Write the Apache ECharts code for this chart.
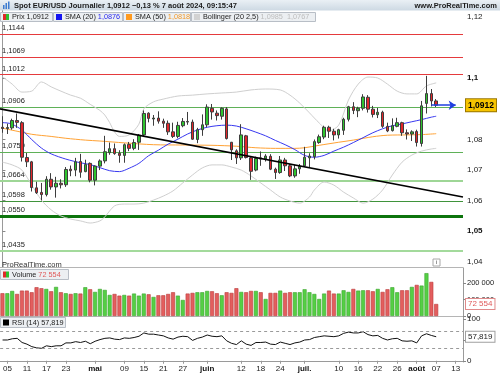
<!DOCTYPE html>
<html><head><meta charset="utf-8">
<script src="https://cdn.jsdelivr.net/npm/echarts@6.0.0/dist/echarts.min.js"></script>
<style>html,body{margin:0;padding:0;background:#fff;}#chart{width:500px;height:375px;}</style>
</head><body><div id="chart"></div>
<script>
// ---------- DATA ----------
const dates = [
 '04-04','04-05',
 '04-08','04-09','04-10','04-11','04-12',
 '04-15','04-16','04-17','04-18','04-19',
 '04-22','04-23','04-24','04-25','04-26',
 '04-29','04-30','05-01','05-02','05-03',
 '05-06','05-07','05-08','05-09','05-10',
 '05-13','05-14','05-15','05-16','05-17',
 '05-20','05-21','05-22','05-23','05-24',
 '05-27','05-28','05-29','05-30','05-31',
 '06-03','06-04','06-05','06-06','06-07',
 '06-10','06-11','06-12','06-13','06-14',
 '06-17','06-18','06-19','06-20','06-21',
 '06-24','06-25','06-26','06-27','06-28',
 '07-01','07-02','07-03','07-04','07-05',
 '07-08','07-09','07-10','07-11','07-12',
 '07-15','07-16','07-17','07-18','07-19',
 '07-22','07-23','07-24','07-25','07-26',
 '07-29','07-30','07-31','08-01','08-02',
 '08-05','08-06','08-07','08-08','08-09',
 '08-12','08-13','08-14'
];
const tickDates = ['04-05','04-11','04-17','04-23','05-01','05-09','05-15','05-21','05-27','06-03','06-12','06-18','06-24','07-01','07-10','07-16','07-22','07-26','08-01','08-07','08-13'];
const tickTexts = ['05','11','17','23','mai','09','15','21','27','juin','12','18','24','juil.','10','16','22','26','août','07','13'];
const monthTexts = ['mai','juin','juil.','août'];

// [open, high, low, close]
const ohlc = [
 [1.0840,1.0876,1.0822,1.0836],[1.0836,1.0852,1.0818,1.0839],[1.0838,1.0868,1.0832,1.0862],[1.0862,1.0885,1.0838,1.0856],
 [1.0855,1.0860,1.0728,1.0742],[1.0741,1.0756,1.0710,1.0727],[1.0727,1.0730,1.0630,1.0643],[1.0642,1.0662,1.0622,1.0626],
 [1.0627,1.0658,1.0601,1.0620],[1.0620,1.0680,1.0614,1.0670],[1.0670,1.0690,1.0636,1.0645],[1.0645,1.0678,1.0610,1.0657],
 [1.0657,1.0670,1.0640,1.0652],[1.0652,1.0710,1.0645,1.0702],[1.0703,1.0715,1.0680,1.0698],[1.0700,1.0740,1.0680,1.0727],
 [1.0728,1.0753,1.0675,1.0693],[1.0695,1.0734,1.0693,1.0718],[1.0722,1.0725,1.0660,1.0667],[1.0667,1.0715,1.0650,1.0713],
 [1.0713,1.0735,1.0700,1.0730],[1.0730,1.0812,1.0722,1.0760],[1.0757,1.0790,1.0750,1.0770],[1.0770,1.0787,1.0750,1.0754],
 [1.0755,1.0765,1.0724,1.0748],[1.0748,1.0787,1.0724,1.0783],[1.0784,1.0792,1.0762,1.0771],[1.0771,1.0801,1.0765,1.0790],
 [1.0791,1.0818,1.0766,1.0814],[1.0815,1.0895,1.0808,1.0885],[1.0886,1.0889,1.0856,1.0869],[1.0867,1.0880,1.0845,1.0870],
 [1.0870,1.0892,1.0852,1.0860],[1.0860,1.0868,1.0838,1.0853],[1.0853,1.0862,1.0815,1.0825],[1.0825,1.0855,1.0805,1.0810],
 [1.0810,1.0858,1.0804,1.0846],[1.0845,1.0870,1.0840,1.0859],[1.0859,1.0890,1.0848,1.0857],[1.0857,1.0865,1.0799,1.0801],
 [1.0800,1.0838,1.0788,1.0832],[1.0832,1.0882,1.0812,1.0848],[1.0848,1.0915,1.0840,1.0906],[1.0902,1.0916,1.0865,1.0890],
 [1.0886,1.0895,1.0862,1.0878],[1.0876,1.0905,1.0865,1.0902],[1.0900,1.0906,1.0800,1.0803],[1.0791,1.0792,1.0733,1.0766],
 [1.0763,1.0768,1.0720,1.0740],[1.0740,1.0850,1.0733,1.0815],[1.0812,1.0815,1.0738,1.0741],[1.0740,1.0745,1.0668,1.0696],
 [1.0700,1.0744,1.0696,1.0738],[1.0740,1.0761,1.0714,1.0736],[1.0737,1.0752,1.0728,1.0746],[1.0745,1.0752,1.0700,1.0703],
 [1.0703,1.0708,1.0671,1.0692],[1.0692,1.0746,1.0688,1.0733],[1.0733,1.0740,1.0697,1.0714],[1.0714,1.0720,1.0677,1.0681],
 [1.0681,1.0717,1.0675,1.0704],[1.0704,1.0720,1.0688,1.0712],[1.0714,1.0776,1.0710,1.0742],[1.0740,1.0755,1.0710,1.0746],
 [1.0744,1.0800,1.0735,1.0793],[1.0790,1.0816,1.0786,1.0809],[1.0808,1.0845,1.0801,1.0840],[1.0840,1.0845,1.0805,1.0827],
 [1.0827,1.0835,1.0797,1.0815],[1.0815,1.0835,1.0803,1.0832],[1.0830,1.0871,1.0815,1.0866],[1.0866,1.0910,1.0859,1.0907],
 [1.0907,1.0922,1.0883,1.0895],[1.0894,1.0907,1.0873,1.0902],[1.0902,1.0948,1.0895,1.0939],[1.0938,1.0945,1.0888,1.0899],
 [1.0899,1.0910,1.0872,1.0882],[1.0881,1.0903,1.0870,1.0889],[1.0889,1.0894,1.0838,1.0843],[1.0843,1.0855,1.0824,1.0828],
 [1.0829,1.0869,1.0826,1.0845],[1.0843,1.0871,1.0840,1.0855],[1.0855,1.0858,1.0812,1.0822],[1.0822,1.0833,1.0800,1.0818],
 [1.0818,1.0830,1.0795,1.0825],[1.0826,1.0832,1.0777,1.0790],[1.0787,1.0926,1.0777,1.0910],[1.0918,1.1008,1.0885,1.0950],
 [1.0950,1.0965,1.0908,1.0926],[1.0926,1.0932,1.0906,1.0912]
];
const volume = [
 137600,137600,151500,133300,153500,153500,143600,173900,167900,163600,
 149500,175800,143600,137600,133300,137600,135600,173900,161600,145500,
 163600,157600,127300,133300,123100,127300,123100,135600,123100,135600,
 131300,115200,125300,125300,133300,143600,123100,97000,135600,139600,
 143600,143600,151500,149500,137600,125300,143600,139600,167900,145500,
 143600,151500,151500,143600,103000,139600,139600,153500,139600,143600,
 143600,143600,161600,143600,133300,103000,135600,153500,135600,135600,
 155500,145500,163600,153500,155500,155500,149500,163600,145500,161600,
 173900,143600,155500,155500,175800,187900,183800,258800,206100,72554
];
const rsi = [
 50,50,53,54,44,40,34,31,30,36, 34,36,36,43,43,46,44,47,41,47,
 51,54,55,52,51,55,54,56,59,67, 64,64,62,60,55,52,57,59,58,49,
 54,57,62,59,58,60,48,42,39,48, 40,37,44,44,45,40,39,45,42,39,
 43,45,50,51,56,58,60,59,58,60, 66,69,67,67,70,63,60,61,54,50,
 53,54,48,47,48,43,60,65,61,57.819
];
// [category index, value]
const sma20 = [[0,1.0855],[1,1.0854],[2,1.0850],[4,1.0831],[6,1.0800],[8,1.0772],[10,1.0753],[13,1.0736],[16,1.0724],[18,1.0718],[20,1.0708],[22,1.0698],[24,1.0695],[26,1.0706],[28,1.0722],[30,1.0747],[32,1.0765],[34,1.0785],[36,1.0801],[38,1.0818],[40,1.0831],[42,1.0840],[44,1.0845],[46,1.0847],[48,1.0844],[50,1.0835],[52,1.0824],[54,1.0812],[56,1.0797],[58,1.0783],[60,1.0767],[62,1.0748],[64,1.0742],[66,1.0748],[68,1.0762],[70,1.0775],[72,1.0790],[74,1.0806],[76,1.0822],[78,1.0835],[80,1.0845],[82,1.0851],[84,1.0858],[86,1.0865],[88,1.0873],[89,1.0876]];
const sma50 = [[0,1.0837],[3,1.0827],[6,1.0817],[10,1.0810],[13,1.0804],[17,1.0798],[20,1.0795],[25,1.0789],[31,1.0783],[37,1.0782],[43,1.0781],[48,1.0778],[52,1.0773],[56,1.0771],[60,1.0771],[62,1.0773],[65,1.0781],[69,1.0791],[72,1.0798],[76,1.0809],[79,1.0814],[83,1.0815],[86,1.0816],[89,1.0819]];
const bbUpper = [[0,1.1005],[2,1.0981],[4,1.0955],[6,1.0958],[8,1.0988],[10,1.0972],[12,1.0958],[14,1.0945],[16,1.0935],[18,1.0915],[20,1.0895],[21,1.0880],[22,1.0855],[23,1.0825],[24,1.0810],[26,1.0815],[28,1.0850],[29,1.0900],[31,1.0923],[33,1.0932],[36,1.0942],[39,1.0945],[42,1.0949],[45,1.0952],[48,1.0955],[51,1.0962],[54,1.0965],[57,1.0962],[59,1.0945],[61,1.0919],[63,1.0887],[65,1.0854],[67,1.0828],[69,1.0847],[71,1.0929],[73,1.0981],[75,1.1004],[77,1.1001],[79,1.0981],[81,1.0958],[83,1.0949],[85,1.0949],[87,1.0975],[89,1.0985]];
const bbLower = [[0,1.0726],[2,1.0717],[4,1.0700],[6,1.0651],[8,1.0602],[10,1.0570],[12,1.0550],[14,1.0540],[16,1.0534],[18,1.0527],[20,1.0534],[21,1.0547],[23,1.0583],[25,1.0589],[27,1.0589],[29,1.0592],[31,1.0602],[33,1.0615],[35,1.0632],[37,1.0658],[39,1.0684],[41,1.0707],[43,1.0717],[45,1.0717],[47,1.0710],[49,1.0700],[51,1.0681],[53,1.0658],[55,1.0635],[57,1.0612],[59,1.0599],[61,1.0592],[63,1.0612],[64,1.0635],[66,1.0661],[68,1.0651],[70,1.0628],[72,1.0609],[74,1.0592],[76,1.0605],[78,1.0635],[80,1.0684],[82,1.0726],[84,1.0749],[86,1.0762],[88,1.0769],[89,1.0771]];
const trendline = [[-0.5,1.0900],[94.5,1.0612]];
const resistances = [1.1144,1.1069,1.1012];
const supports = [1.0906,1.0759,1.0664,1.0598,1.0550,1.0435];
const priceTicks = [1.04,1.05,1.06,1.07,1.08,1.09,1.1,1.12];
const volumeTicks = [0,100000,200000];
const rsiTicks = [0,50,100];
const rsiLevels = [70,30];
const lastPrice = 1.0912, lastVolume = 72554, lastRsi = 57.819;
const sma20Last = 1.0876, sma50Last = 1.0818, bbUpLast = 1.0985, bbLowLast = 1.0767;
const changePct = -0.13;

// ---------- STYLES ----------
const FF = '"Liberation Sans", Arial, sans-serif';
const LF = '7.3px ' + FF;
const NOLINE = 'rgba(0,0,0,0)';
const supportStyles = [
 {c:'#5fb158', w:1},{c:'#5fb158', w:1},{c:'#9ed696', w:2},{c:'#3f933b', w:1},{c:'#0d740d', w:3},{c:'#a3da9c', w:2}
];
function fr(v, d){ return v.toFixed(d).replace('.', ','); }
function frInt(v){ return String(Math.round(v)).replace(/\B(?=(\d{3})+(?!\d))/g, ' '); }
function frAxis(v){ return String(+v.toFixed(2)).replace('.', ','); }

const candleData = ohlc.map(d => [d[0], d[3], d[2], d[1]]);
const volData = volume.map((v, i) => ({
  value: v,
  itemStyle: ohlc[i][3] >= ohlc[i][0]
    ? {color:'#55cf45', borderColor:'#3aa52e', borderWidth:0.6}
    : {color:'#e35e5e', borderColor:'#bb3b3b', borderWidth:0.6}
}));

const levelLines = [];
resistances.forEach(v => levelLines.push({yAxis:v, lineStyle:{color:'#e53a3d', width:1, type:'solid'}, label:{formatter: fr(v,4)}}));
supports.forEach((v, i) => levelLines.push({yAxis:v, lineStyle:{color:supportStyles[i].c, width:supportStyles[i].w, type:'solid'}, label:{formatter: fr(v,4)}}));

const labelInterval = (idx, val) => tickDates.indexOf(val) >= 0;

const chart = echarts.init(document.getElementById('chart'), null, {renderer:'canvas'});
const txt = (x, y, text, opts) => Object.assign({type:'text', x:x, y:y, z:100, style:Object.assign({text:text, font:LF, fill:'#222', verticalAlign:'middle', textVerticalAlign:'middle'}, opts || {})});
const box = (x, y, w, h) => ({type:'rect', z:99, shape:{x:x, y:y, width:w, height:h}, style:{fill:'#eceff2', stroke:'#b8bec6', lineWidth:1}});
const sq = (x, y, c) => ({type:'rect', z:100, shape:{x:x, y:y, width:6, height:6}, style:{fill:c}});

chart.setOption({
  animation:false,
  backgroundColor:'#fff',
  textStyle:{fontFamily:FF},
  grid:[
    {left:0, width:463, top:10, height:257},
    {left:0, width:463, top:268, height:48},
    {left:0, width:463, top:317, height:45}
  ],
  xAxis:[
    {type:'category', gridIndex:0, data:dates, boundaryGap:true, axisLine:{show:true, lineStyle:{color:'#b5b5b5'}}, axisTick:{show:false}, axisLabel:{show:false}, splitLine:{show:false}},
    {type:'category', gridIndex:1, data:dates, boundaryGap:true, axisLine:{show:true, lineStyle:{color:'#b5b5b5'}}, axisTick:{show:false}, axisLabel:{show:false}, splitLine:{show:false}},
    {type:'category', gridIndex:2, data:dates, boundaryGap:true, axisLine:{show:true, lineStyle:{color:'#9a9a9a'}},
      axisTick:{show:true, alignWithLabel:true, interval:labelInterval, length:3, lineStyle:{color:'#999'}},
      axisLabel:{show:true, interval:labelInterval, margin:3, fontSize:8, color:'#222', fontFamily:FF,
        formatter:(val) => { const t = tickTexts[tickDates.indexOf(val)]; return monthTexts.indexOf(t) >= 0 ? '{b|' + t + '}' : t; },
        rich:{b:{fontWeight:'bold', fontSize:8, color:'#111', fontFamily:FF}}},
      splitLine:{show:false}},
    {type:'value', gridIndex:0, min:-0.5, max:94.5, show:false, position:'top'}
  ],
  yAxis:[
    {type:'value', gridIndex:0, position:'right', min:1.03833, max:1.12232, scale:true,
      axisLine:{show:true, lineStyle:{color:'#9a9a9a'}},
      axisTick:{show:true, length:3, customValues:priceTicks, lineStyle:{color:'#888'}},
      axisLabel:{customValues:priceTicks, margin:4, fontSize:8, color:'#222', fontFamily:FF,
        formatter:(v) => { const s = frAxis(v); return (Math.abs(v*100 % 5) < 1e-6 || Math.abs(v*100 % 5 - 5) < 1e-6) ? '{b|' + s + '}' : s; },
        rich:{b:{fontWeight:'bold', fontSize:8, color:'#111', fontFamily:FF}}},
      splitLine:{show:false}},
    {type:'value', gridIndex:1, position:'right', min:0, max:290000,
      axisLine:{show:true, lineStyle:{color:'#9a9a9a'}},
      axisTick:{show:true, length:3, customValues:volumeTicks, lineStyle:{color:'#888'}},
      axisLabel:{customValues:volumeTicks, margin:4, fontSize:7.5, color:'#222', fontFamily:FF, formatter:(v) => frInt(v)},
      splitLine:{show:false}},
    {type:'value', gridIndex:2, position:'right', min:-3, max:105.4,
      axisLine:{show:true, lineStyle:{color:'#9a9a9a'}},
      axisTick:{show:true, length:3, customValues:rsiTicks, lineStyle:{color:'#888'}},
      axisLabel:{customValues:rsiTicks, margin:4, fontSize:8, color:'#222', fontFamily:FF},
      splitLine:{show:false}}
  ],
  series:[
    {name:'levels', type:'line', xAxisIndex:0, yAxisIndex:0, data:[], z:1, silent:true,
      markLine:{silent:true, z:1, precision:4, symbol:['none','none'], animation:false,
        label:{show:true, position:'insideStartTop', color:'#222', fontSize:7.5, fontFamily:FF, distance:[2,2]},
        data:levelLines}},
    {name:'BB+', type:'line', xAxisIndex:0, yAxisIndex:0, data:bbUpper, smooth:0.3, symbol:'none', z:2, lineStyle:{color:'#cfcfcf', width:1}},
    {name:'BB-', type:'line', xAxisIndex:0, yAxisIndex:0, data:bbLower, smooth:0.3, symbol:'none', z:2, lineStyle:{color:'#cfcfcf', width:1}},
    {name:'SMA50', type:'line', xAxisIndex:0, yAxisIndex:0, data:sma50, smooth:0.3, symbol:'none', z:3, lineStyle:{color:'#ffa234', width:1}},
    {name:'SMA20', type:'line', xAxisIndex:0, yAxisIndex:0, data:sma20, smooth:0.3, symbol:'none', z:3, lineStyle:{color:'#3838f0', width:1}},
    {name:'Prix', type:'candlestick', xAxisIndex:0, yAxisIndex:0, data:candleData, barWidth:3, z:4,
      itemStyle:{color:'#2fc42f', color0:'#e3262b', borderColor:'#3d3d3d', borderColor0:'#3d3d3d', borderWidth:1},
      markLine:{silent:true, z:10, precision:4, symbol:['none','none'], animation:false,
        data:[
          {yAxis:lastPrice, lineStyle:{color:NOLINE, width:0}, label:{show:true, position:'end', distance:3, formatter:fr(lastPrice,4),
            backgroundColor:'#f6c400', borderColor:'#9b7700', borderWidth:1, padding:[2,2,1,2], color:'#000', fontWeight:'bold', fontSize:8.5, fontFamily:FF}},
          [{coord:[dates[88], lastPrice], symbol:'none', lineStyle:{color:'#1f3fe0', width:1.5, type:'solid'}, label:{show:false}},
           {coord:[dates[93], lastPrice], symbol:'arrow', symbolSize:[7,7]}]
        ]}},
    {name:'trend', type:'line', xAxisIndex:3, yAxisIndex:0, data:trendline, symbol:'none', z:5, lineStyle:{color:'#000', width:1.6}},
    {name:'Volume', type:'bar', xAxisIndex:1, yAxisIndex:1, data:volData, barWidth:4,
      markLine:{silent:true, z:10, precision:0, symbol:['none','none'], animation:false,
        data:[{yAxis:lastVolume, lineStyle:{color:NOLINE, width:0}, label:{show:true, position:'end', distance:3, formatter:frInt(lastVolume),
          backgroundColor:'#fff', borderColor:'#e08a8a', borderWidth:1, padding:[1,2,1,2], color:'#e05a5a', fontSize:8, fontFamily:FF}}]}},
    {name:'RSI', type:'line', xAxisIndex:2, yAxisIndex:2, data:rsi, symbol:'none', lineStyle:{color:'#111', width:1},
      markLine:{silent:true, z:10, precision:3, symbol:['none','none'], animation:false,
        data:[
          {yAxis:rsiLevels[0], lineStyle:{color:'#9a9a9a', type:[3,3], width:1}, label:{show:false}},
          {yAxis:rsiLevels[1], lineStyle:{color:'#9a9a9a', type:[3,3], width:1}, label:{show:false}},
          {yAxis:lastRsi, lineStyle:{color:NOLINE, width:0}, label:{show:true, position:'end', distance:3, formatter:fr(lastRsi,3),
            backgroundColor:'#fff', borderColor:'#a0a0a0', borderWidth:1, padding:[1,2,1,2], color:'#222', fontSize:8, fontFamily:FF}}
        ]}}
  ],
  graphic:[
    {type:'rect', z:98, shape:{x:0, y:0, width:500, height:10.5},
      style:{fill:new echarts.graphic.LinearGradient(0,0,0,1,[{offset:0,color:'#eaf0f5'},{offset:1,color:'#cdd9e3'}])}},
    {type:'rect', z:100, shape:{x:3, y:5, width:1.5, height:4}, style:{fill:'#3b7bd0'}},
    {type:'rect', z:100, shape:{x:5.5, y:3, width:1.5, height:6}, style:{fill:'#3b7bd0'}},
    {type:'rect', z:100, shape:{x:8, y:1.5, width:1.5, height:7.5}, style:{fill:'#3b7bd0'}},
    txt(14, 5.5, 'Spot EUR/USD Journalier ' + fr(lastPrice,4) + ' \u2212' + fr(Math.abs(changePct),2) + ' % 7 août 2024, 09:15:47', {font:'bold 7.5px ' + FF, fill:'#1a1a1a'}),
    txt(497, 5.5, 'www.ProRealTime.com', {font:'bold 7.5px ' + FF, fill:'#1a1a1a', align:'right', textAlign:'right'}),
    box(0.5, 12.5, 52, 9),
    {type:'rect', z:100, shape:{x:3, y:14, width:3, height:6}, style:{fill:'#e02a2a'}},
    {type:'rect', z:100, shape:{x:6, y:14, width:3, height:6}, style:{fill:'#2fbf2f'}},
    txt(12, 17.2, 'Prix ' + fr(lastPrice,4)),
    box(53.5, 12.5, 69, 9), sq(56, 14, '#1414f0'),
    txt(65, 17.2, 'SMA (20) {v|' + fr(sma20Last,4) + '}', {rich:{v:{fill:'#2a2af0', font:LF}}}),
    box(123.5, 12.5, 67, 9), sq(126, 14, '#ff9a1f'),
    txt(135, 17.2, 'SMA (50) {v|' + fr(sma50Last,4) + '}', {rich:{v:{fill:'#f39a2a', font:LF}}}),
    box(191.5, 12.5, 124, 9), sq(194, 14, '#d2d2d2'),
    txt(203, 17.2, 'Bollinger (20 2,5) {v|' + fr(bbUpLast,4) + '  ' + fr(bbLowLast,4) + '}', {rich:{v:{fill:'#bdbdbd', font:LF}}}),
    txt(2, 264.5, 'ProRealTime.com', {fill:'#333', font:'7.5px ' + FF}),
    {type:'rect', z:100, shape:{x:433, y:259, width:7, height:7}, style:{fill:'#fff', stroke:'#a8a8a8', lineWidth:1}},
    txt(436.5, 262.8, 'i', {font:'bold 6px ' + FF, fill:'#888', align:'center', textAlign:'center'}),
    box(0.5, 269.5, 68, 10),
    {type:'rect', z:100, shape:{x:3, y:271.5, width:3, height:6}, style:{fill:'#e02a2a'}},
    {type:'rect', z:100, shape:{x:6, y:271.5, width:3, height:6}, style:{fill:'#2fbf2f'}},
    txt(12, 274.7, 'Volume {v|' + frInt(lastVolume) + '}', {rich:{v:{fill:'#e05a5a', font:LF}}}),
    box(0.5, 317.5, 65, 10), sq(3, 319.5, '#000'),
    txt(12, 322.7, 'RSI (14) ' + fr(lastRsi,3))
  ]
});
</script></body></html>
